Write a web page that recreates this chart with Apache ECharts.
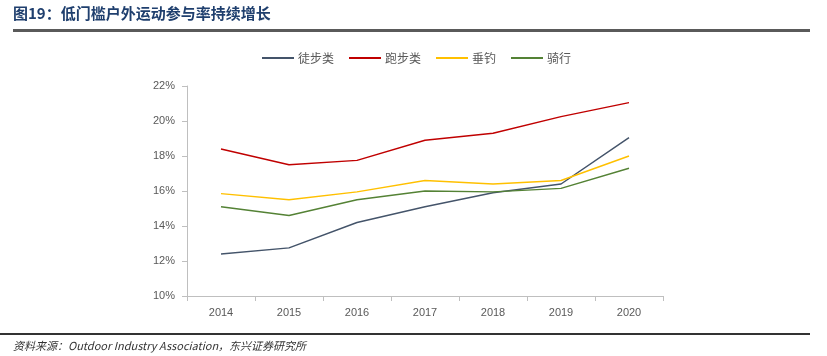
<!DOCTYPE html>
<html><head><meta charset="utf-8">
<script src="https://cdn.jsdelivr.net/npm/echarts@6/dist/echarts.min.js"></script>
<style>html,body{margin:0;padding:0;background:#fff}#c{width:827px;height:356px}</style>
</head><body><div id="c"></div>
<script>
var years = ['2014','2015','2016','2017','2018','2019','2020'];
var hiking = [12.4, 12.75, 14.2, 15.1, 15.9, 16.4, 19.05];
var running = [18.4, 17.5, 17.75, 18.9, 19.3, 20.25, 21.05];
var fishing = [15.85, 15.5, 15.95, 16.6, 16.4, 16.6, 18.0];
var cycling = [15.1, 14.6, 15.5, 16.0, 15.95, 16.15, 17.3];
var seriesNames = ['徒步类','跑步类','垂钓','骑行'];
var seriesColors = ['#44546A','#C00000','#FFC000','#548235'];
var seriesData = [hiking, running, fishing, cycling];

var chart = echarts.init(document.getElementById('c'));
chart.setOption({
  animation:false,
  backgroundColor:'#fff',
  graphic:[
    {type:'text', left:13, top:6, style:{text:'图19：低门槛户外运动参与率持续增长', font:'bold 15px "Noto Sans CJK SC", sans-serif', fill:'#1F3F6E'}},
    {type:'rect', shape:{x:13,y:29,width:797,height:3}, style:{fill:'#5A5A5A'}},
    {type:'rect', shape:{x:0,y:333,width:810,height:2}, style:{fill:'#333'}},
    {type:'text', left:13, top:340, style:{text:'资料来源：Outdoor Industry Association，东兴证券研究所', font:'italic 11px "Noto Sans CJK SC", sans-serif', fill:'#333'}}
  ],
  legend:{
    top:47, left:257, itemWidth:32, itemHeight:2, itemGap:15,
    icon:'rect',
    textStyle:{color:'#595959', fontSize:12, padding:[0,0,0,-1], fontFamily:'"Noto Sans CJK SC", sans-serif'},
    data:seriesNames
  },
  grid:{left:187, right:164, top:86, bottom:60},
  xAxis:{
    type:'category', data:years, boundaryGap:true,
    axisLine:{lineStyle:{color:'#BFBFBF'}},
    axisTick:{show:true, alignWithLabel:false, length:5, lineStyle:{color:'#BFBFBF'}},
    axisLabel:{color:'#595959', fontSize:11, margin:11, fontFamily:'Liberation Sans, Arial, sans-serif'}
  },
  yAxis:{
    type:'value', min:10, max:22, interval:2,
    axisLine:{show:true, lineStyle:{color:'#BFBFBF'}},
    axisTick:{show:true, length:5, lineStyle:{color:'#BFBFBF'}},
    splitLine:{show:false},
    axisLabel:{color:'#595959', fontSize:11, margin:12, formatter:'{value}%', fontFamily:'Liberation Sans, Arial, sans-serif'}
  },
  series: seriesNames.map(function(n,i){
    return {name:n, type:'line', data:seriesData[i], symbol:'none', color:seriesColors[i],
      lineStyle:{width:1.5, color:seriesColors[i]}};
  })
});
</script></body></html>
